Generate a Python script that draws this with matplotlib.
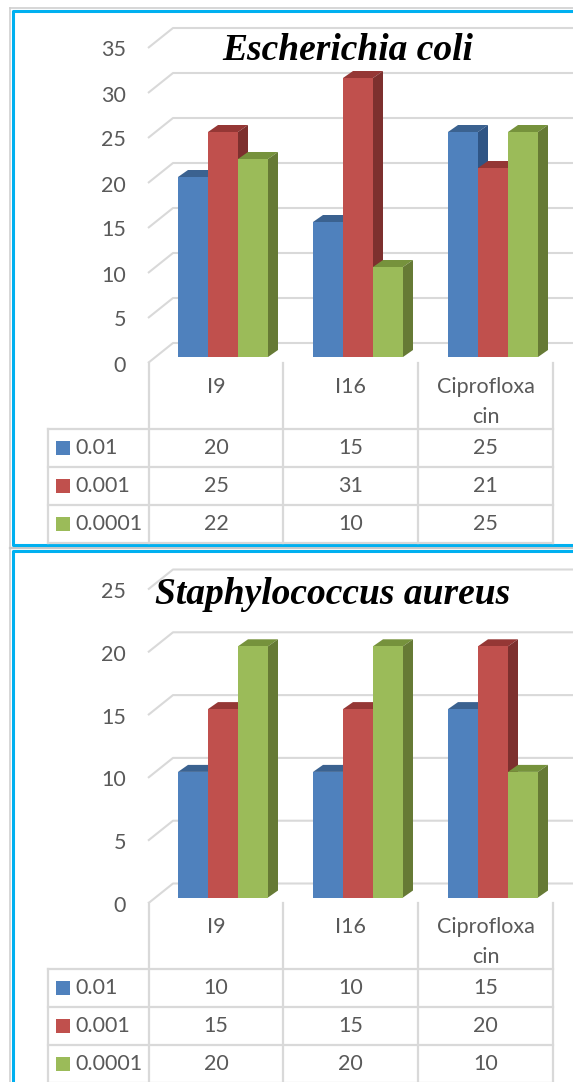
"""
Antibacterial activity of I9, I16 and ciprofloxacin: two fake-3D column charts
with a data table under each one (Excel style).
"""

import matplotlib

matplotlib.use("Agg")

import matplotlib.pyplot as plt
from matplotlib.patches import Polygon, Rectangle

CATEGORIES = ["I9", "I16", "Ciprofloxa\ncin"]
SERIES_NAMES = ["0.01", "0.001", "0.0001"]

ECOLI_LOW = [20, 15, 25]
ECOLI_MID = [25, 31, 21]
ECOLI_HIGH = [22, 10, 25]
ECOLI_TICKS = [0, 5, 10, 15, 20, 25, 30, 35]

STAPH_LOW = [10, 10, 15]
STAPH_MID = [15, 15, 20]
STAPH_HIGH = [20, 20, 10]
STAPH_TICKS = [0, 5, 10, 15, 20, 25]

# front, top, side
COLORS = [
    ("#4f81bd", "#3b6290", "#2f5585"),
    ("#c0504d", "#953735", "#7d302e"),
    ("#9bbb59", "#76923c", "#667a35"),
]
COLOR_GRID = "#d9d9d9"
COLOR_TEXT = "#595959"
COLOR_FRAME = "#00b0f0"

WIDTH, HEIGHT = 573, 1082
GROUP_STEP = 135  # px between category groups
FIRST_GROUP = 223  # px, centre of the first group's front faces
BAR_WIDTH = 30 / GROUP_STEP
DEPTH_X = 10 / GROUP_STEP

TABLE_X = [48, 149, 283, 418, 553]
ROW_HEIGHT = 38
FONT = ["Lato", "DejaVu Sans"]
TITLE_FONT = "Liberation Serif"
TEXT_SIZE = 15.5


def add_panel(fig, top, bottom, baseline, px_per_unit):
    """Axes over a strip of the figure where y is the value and x the category index."""
    ax = fig.add_axes([0, 1 - bottom / HEIGHT, 1, (bottom - top) / HEIGHT])
    ax.set_xlim(-FIRST_GROUP / GROUP_STEP, (WIDTH - FIRST_GROUP) / GROUP_STEP)
    ax.set_ylim((baseline - bottom) / px_per_unit, (baseline - top) / px_per_unit)
    ax.axis("off")
    ax.patch.set_alpha(0)
    return ax


def draw_grid(ax, ticks, px_per_unit):
    """Back wall gridlines with the slanted stub on the left, plus the value labels."""
    x_front = (148 - FIRST_GROUP) / GROUP_STEP
    x_back = (173 - FIRST_GROUP) / GROUP_STEP
    x_right = (WIDTH - FIRST_GROUP) / GROUP_STEP
    x_label = (126 - FIRST_GROUP) / GROUP_STEP
    front_drop = 6 / px_per_unit
    back_rise = 14 / px_per_unit
    text_nudge = 2.5 / px_per_unit
    for tick in ticks:
        ax.plot(
            [x_front, x_back, x_right],
            [tick - front_drop, tick + back_rise, tick + back_rise],
            color=COLOR_GRID,
            linewidth=1.5,
            zorder=1,
            solid_capstyle="butt",
        )
        ax.text(
            x_label,
            tick - front_drop - text_nudge,
            str(tick),
            ha="right",
            va="center",
            fontsize=TEXT_SIZE,
            color=COLOR_TEXT,
            family=FONT,
        )


def draw_bars(ax, series, px_per_unit):
    """Each column is a front face with top and side polygons pushed back by the depth."""
    depth_y = 7 / px_per_unit
    z = 2
    for group in range(len(CATEGORIES)):
        for s, values in enumerate(series):
            left = group + (s - 1.5) * BAR_WIDTH
            right = left + BAR_WIDTH
            value = values[group]
            front, top, side = COLORS[s]
            ax.add_patch(
                Polygon(
                    [
                        (left, value),
                        (left + DEPTH_X, value + depth_y),
                        (right + DEPTH_X, value + depth_y),
                        (right, value),
                    ],
                    facecolor=top,
                    edgecolor="none",
                    zorder=z,
                )
            )
            ax.add_patch(
                Polygon(
                    [
                        (right, 0),
                        (right + DEPTH_X, depth_y),
                        (right + DEPTH_X, value + depth_y),
                        (right, value),
                    ],
                    facecolor=side,
                    edgecolor="none",
                    zorder=z,
                )
            )
            ax.bar(left, value, BAR_WIDTH, align="edge", color=front, zorder=z)
            z += 1


def draw_table(overlay, axis_y, header_y, series):
    """Data table under the plot: category cells, then one row per series with its key."""
    row_lines = [header_y + i * ROW_HEIGHT for i in range(len(series) + 1)]
    for x in TABLE_X[1:]:
        overlay.plot([x, x], [axis_y, row_lines[-1]], color=COLOR_GRID, linewidth=1.6)
    overlay.plot([TABLE_X[0]] * 2, [header_y, row_lines[-1]], color=COLOR_GRID, linewidth=1.6)
    for y in row_lines:
        overlay.plot([TABLE_X[0], TABLE_X[-1]], [y, y], color=COLOR_GRID, linewidth=1.6)

    for i, label in enumerate(CATEGORIES):
        centre = (TABLE_X[i + 1] + TABLE_X[i + 2]) / 2
        overlay.text(
            centre,
            axis_y + 14,
            label,
            ha="center",
            va="top",
            fontsize=TEXT_SIZE,
            color=COLOR_TEXT,
            family=FONT,
            linespacing=1.6,
        )

    for row, (name, values) in enumerate(zip(SERIES_NAMES, series)):
        mid = row_lines[row] + ROW_HEIGHT / 2 + 0.5
        overlay.add_patch(Rectangle((56, mid - 8), 14, 14, facecolor=COLORS[row][0], edgecolor="none"))
        overlay.text(75, mid, name, ha="left", va="center", fontsize=TEXT_SIZE, color=COLOR_TEXT, family=FONT)
        for i, value in enumerate(values):
            centre = (TABLE_X[i + 1] + TABLE_X[i + 2]) / 2
            overlay.text(
                centre,
                mid,
                str(value),
                ha="center",
                va="center",
                fontsize=TEXT_SIZE,
                color=COLOR_TEXT,
                family=FONT,
            )


def draw_frames(overlay):
    """Blue chart borders, open on the right, and the thin grey lines round them."""
    overlay.plot([10, 10], [8, HEIGHT], color="#cfcfcf", linewidth=1.2)
    overlay.plot([10, WIDTH], [8, 8], color="#cfcfcf", linewidth=1.2)
    overlay.plot([10, WIDTH], [548, 548], color="#c8c8c8", linewidth=1.6)
    overlay.plot([WIDTH, 12.5, 12.5, WIDTH], [10.5, 10.5, 545, 545], color=COLOR_FRAME, linewidth=2.2)
    overlay.plot([WIDTH, 12.5, 12.5], [551, 551, HEIGHT], color=COLOR_FRAME, linewidth=2.2)


def main():
    fig = plt.figure(figsize=(WIDTH / 100, HEIGHT / 100), dpi=100, facecolor="white")

    top_ax = add_panel(fig, 10, 363, 357, 9.0)
    draw_grid(top_ax, ECOLI_TICKS, 9.0)
    draw_bars(top_ax, [ECOLI_LOW, ECOLI_MID, ECOLI_HIGH], 9.0)

    bottom_ax = add_panel(fig, 552, 903, 897.5, 12.56)
    draw_grid(bottom_ax, STAPH_TICKS, 12.56)
    draw_bars(bottom_ax, [STAPH_LOW, STAPH_MID, STAPH_HIGH], 12.56)

    overlay = fig.add_axes([0, 0, 1, 1], zorder=5)
    overlay.set_xlim(0, WIDTH)
    overlay.set_ylim(HEIGHT, 0)
    overlay.axis("off")
    overlay.patch.set_alpha(0)

    draw_frames(overlay)
    draw_table(overlay, 363, 429, [ECOLI_LOW, ECOLI_MID, ECOLI_HIGH])
    draw_table(overlay, 903, 969, [STAPH_LOW, STAPH_MID, STAPH_HIGH])

    for x, y, title in [(347.5, 51, "Escherichia coli"), (332.5, 595, "Staphylococcus aureus")]:
        overlay.text(
            x,
            y,
            title,
            ha="center",
            va="center",
            fontsize=27,
            fontweight="bold",
            fontstyle="italic",
            family=TITLE_FONT,
            color="black",
        )

    fig.savefig("out.png", dpi=100, facecolor="white")


if __name__ == "__main__":
    main()
